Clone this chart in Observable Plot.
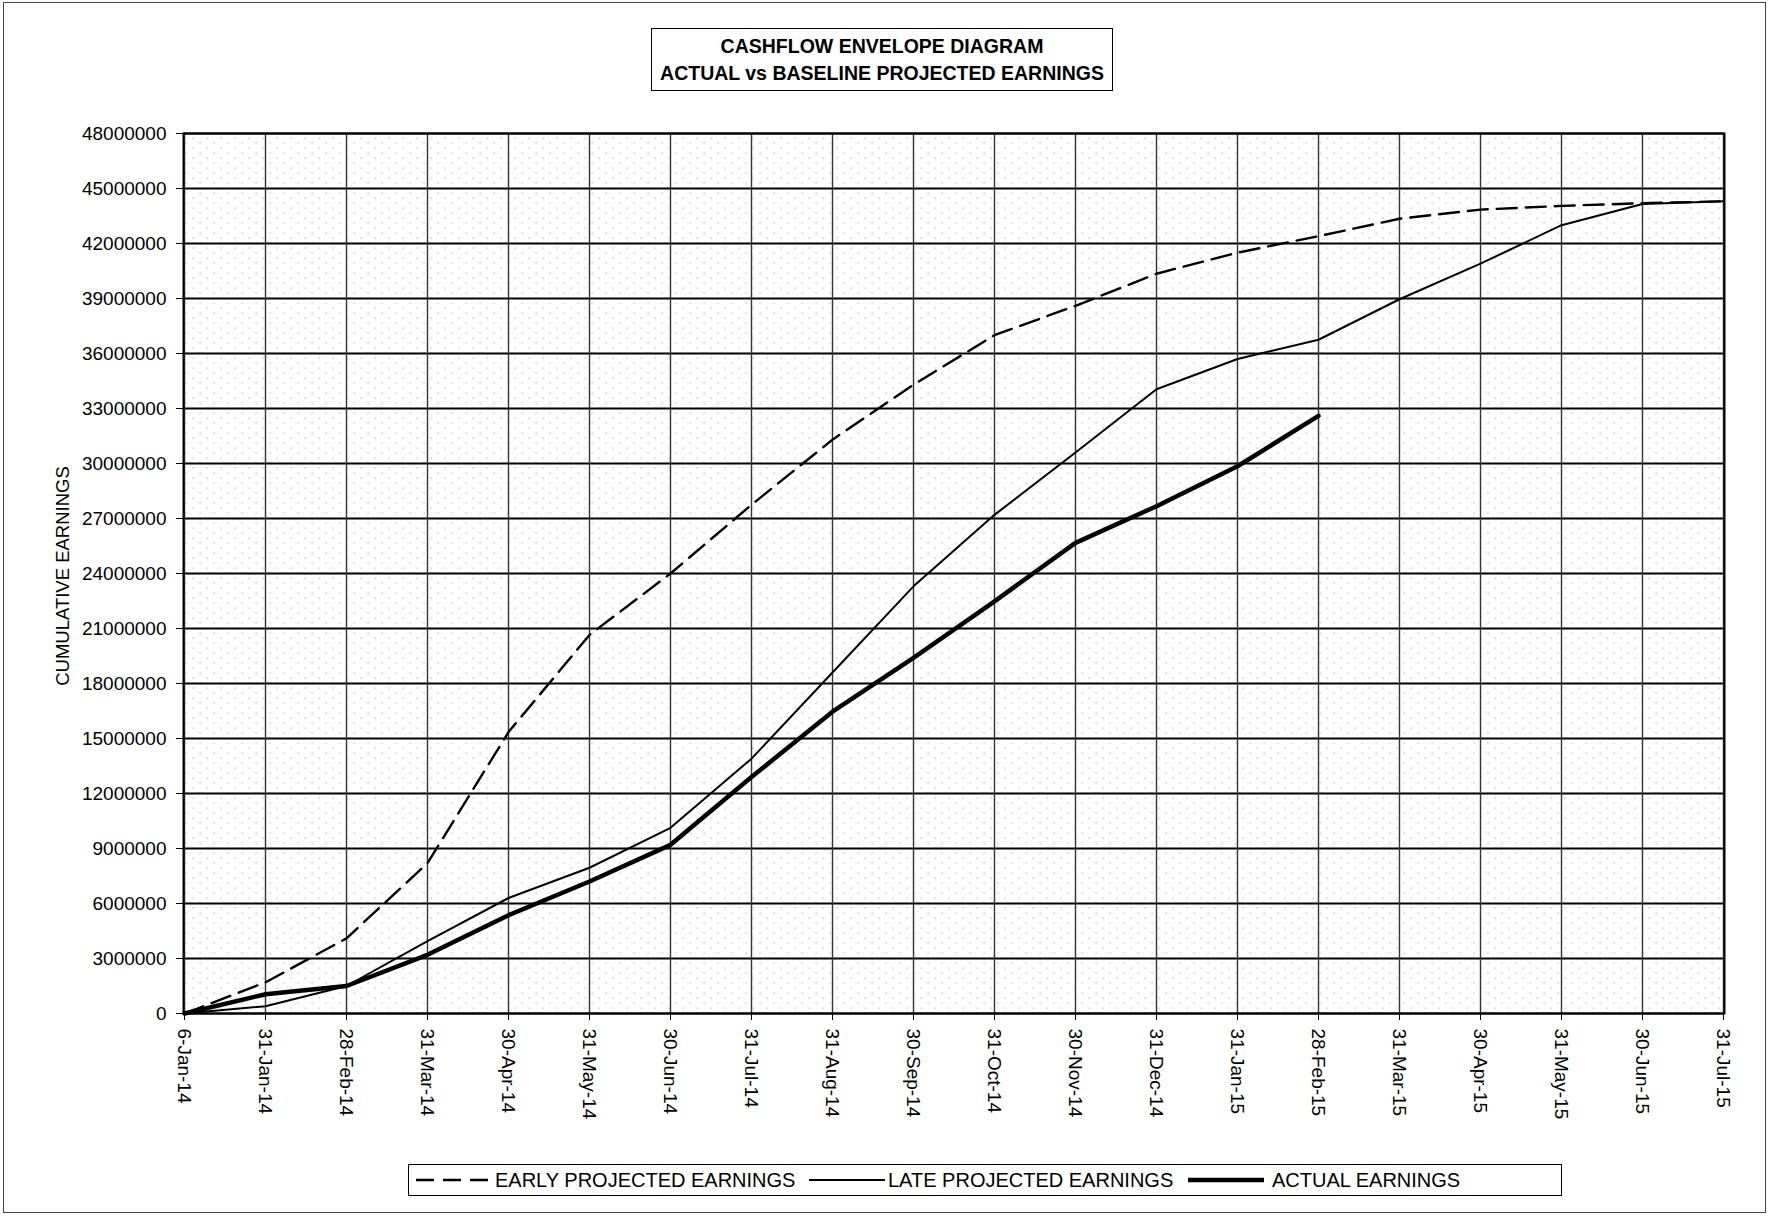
<!DOCTYPE html>
<html>
<head>
<meta charset="utf-8">
<script src="https://cdn.jsdelivr.net/npm/d3@7"></script>
<script src="https://cdn.jsdelivr.net/npm/@observablehq/plot@0.6"></script>
<style>
  html, body { margin: 0; padding: 0; background: #fff; }
  #page { position: relative; width: 1769px; height: 1216px; overflow: hidden; font-family: "Liberation Sans", Arial, Helvetica, sans-serif; color: #000; }
  #outer { position: absolute; left: 3px; top: 2px; width: 1761px; height: 1209px; border: 1px solid #444; }
  #chart { position: absolute; left: 0; top: 0; }
  #title { position: absolute; left: 651px; top: 28px; width: 462px; height: 63px; border: 1.5px solid #000; background: #fff;
           font-weight: bold; font-size: 19.5px; line-height: 27px; text-align: center; padding-top: 4px; box-sizing: border-box; white-space: nowrap; }
  #ylabel { position: absolute; left: 63px; top: 576px; transform: translate(-50%, -50%) rotate(-90deg); white-space: nowrap; font-size: 18.5px; }
  #legend { position: absolute; left: 408px; top: 1164px; width: 1154px; height: 32px; border: 1.5px solid #000; box-sizing: border-box; background: #fff; font-size: 20px; }
  #legend .sw { position: absolute; top: 0; height: 30px; }
  #legend .lt { position: absolute; top: 4px; white-space: nowrap; }
</style>
</head>
<body>
<div id="page">
  <div id="outer"></div>
  <div id="chart"></div>
  <div id="title">CASHFLOW ENVELOPE DIAGRAM<br>ACTUAL vs BASELINE PROJECTED EARNINGS</div>
  <div id="ylabel">CUMULATIVE EARNINGS</div>
  <div id="legend"></div>
</div>
<script>
// ---- data (cumulative earnings, millions) ----
const dates = ["6-Jan-14","31-Jan-14","28-Feb-14","31-Mar-14","30-Apr-14","31-May-14","30-Jun-14","31-Jul-14","31-Aug-14","30-Sep-14","31-Oct-14","30-Nov-14","31-Dec-14","31-Jan-15","28-Feb-15","31-Mar-15","30-Apr-15","31-May-15","30-Jun-15","31-Jul-15"];
const earlyProjected = [0, 1.7, 4.1, 8.2, 15.35, 20.65, 24.0, 27.75, 31.3, 34.3, 37.0, 38.6, 40.35, 41.5, 42.4, 43.35, 43.85, 44.05, 44.2, 44.3];
const lateProjected  = [0, 0.4, 1.5, 3.95, 6.3, 7.95, 10.13, 13.9, 18.6, 23.3, 27.2, 30.6, 34.05, 35.7, 36.75, 38.96, 40.9, 43.0, 44.15, 44.3];
const actualEarnings = [0, 1.05, 1.5, 3.2, 5.36, 7.2, 9.2, 12.9, 16.46, 19.4, 22.48, 25.67, 27.67, 29.85, 32.6];
const yTicks = d3.range(0, 48000001, 3000000);
const seriesNames = ["EARLY PROJECTED EARNINGS", "LATE PROJECTED EARNINGS", "ACTUAL EARNINGS"];

const toRows = (arr) => arr.map((v, i) => ({date: dates[i], value: v * 1e6}));
const earlyRows = toRows(earlyProjected);
const lateRows = toRows(lateProjected);
const actualRows = toRows(actualEarnings);

const chart = Plot.plot({
  width: 1769,
  height: 1140,
  marginLeft: 183,
  marginRight: 45,
  marginTop: 133,
  marginBottom: 127,
  style: { fontFamily: "'Liberation Sans', Arial, Helvetica, sans-serif", fontSize: "19px", color: "#000", background: "transparent" },
  x: { type: "point", domain: dates, padding: 0, label: null, tickRotate: 90, tickSize: 7, tickPadding: 8 },
  y: { domain: [0, 48000000], ticks: yTicks, tickFormat: d3.format("d"), label: null, tickSize: 7, tickPadding: 10 },
  marks: [
    Plot.frame({ fill: "url(#stipple)", stroke: null }),
    Plot.ruleY(yTicks, { stroke: "#000", strokeWidth: 2.2 }),
    Plot.ruleX(dates, { stroke: "#333", strokeWidth: 1.4 }),
    Plot.frame({ stroke: "#000", strokeWidth: 2 }),
    Plot.lineY(earlyRows, { x: "date", y: "value", stroke: "#000", strokeWidth: 2.4, strokeDasharray: "20,9" }),
    Plot.lineY(lateRows, { x: "date", y: "value", stroke: "#000", strokeWidth: 2 }),
    Plot.lineY(actualRows, { x: "date", y: "value", stroke: "#000", strokeWidth: 4.5 })
  ]
});

// stipple texture (scanned dotted fill of the plot area)
const ns = "http://www.w3.org/2000/svg";
const defs = document.createElementNS(ns, "defs");
defs.innerHTML = '<pattern id="stipple" width="14" height="10" patternUnits="userSpaceOnUse">' +
  '<rect x="3" y="2" width="1.2" height="1.2" fill="#aaa"/>' +
  '<rect x="10" y="7" width="1.2" height="1.2" fill="#aaa"/></pattern>';
chart.insertBefore(defs, chart.firstChild);
document.getElementById("chart").appendChild(chart);

// legend
const legend = document.getElementById("legend");
const items = [
  { name: seriesNames[0], sw: 7, tx: 86, w: 2.4, dash: "18,9" },
  { name: seriesNames[1], sw: 400, tx: 479, w: 2, dash: null },
  { name: seriesNames[2], sw: 779, tx: 863, w: 4.5, dash: null }
];
items.forEach(it => {
  const svg = document.createElementNS(ns, "svg");
  svg.setAttribute("class", "sw");
  svg.setAttribute("width", 76);
  svg.setAttribute("height", 30);
  svg.style.left = it.sw + "px";
  const ln = document.createElementNS(ns, "line");
  ln.setAttribute("x1", 0); ln.setAttribute("x2", 76);
  ln.setAttribute("y1", 15); ln.setAttribute("y2", 15);
  ln.setAttribute("stroke", "#000");
  ln.setAttribute("stroke-width", it.w);
  if (it.dash) ln.setAttribute("stroke-dasharray", it.dash);
  svg.appendChild(ln);
  legend.appendChild(svg);
  const t = document.createElement("div");
  t.className = "lt";
  t.style.left = it.tx + "px";
  t.textContent = it.name;
  legend.appendChild(t);
});
</script>
</body>
</html>
